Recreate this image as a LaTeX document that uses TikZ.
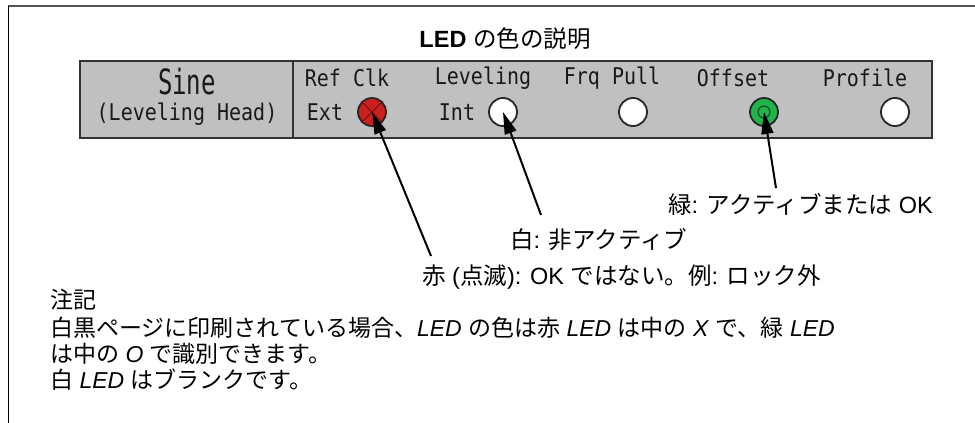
\documentclass[tikz,border=0pt]{standalone}
\usepackage{fontspec}
\setmainfont{Liberation Sans}
\newfontfamily\jp{Noto Sans CJK JP}
\newfontfamily\pix{DejaVu Sans Mono}
\usetikzlibrary{arrows.meta}
\definecolor{panelgray}{HTML}{C0C0C0}
\definecolor{ledred}{HTML}{CC2020}
\definecolor{ledgreen}{HTML}{22B44A}
\newcommand{\pixs}[1]{\scalebox{1}[1.15]{#1}}
\tikzset{
  pixtext/.style={font=\pix\fontsize{20}{22}\selectfont, text=black!90, inner sep=0pt, anchor=center},
  labeltext/.style={font=\fontsize{23.5}{26}\selectfont, inner sep=0pt, anchor=base west},
  notetext/.style={font=\fontsize{23}{26}\selectfont, inner sep=0pt, anchor=base west},
  ledbase/.style={circle, minimum size=28pt, inner sep=0pt, draw=black!85, line width=1.8pt},
  whiteled/.style={ledbase, fill=white},
  redled/.style={ledbase, fill=ledred},
  greenled/.style={ledbase, fill=ledgreen},
  arr/.style={line width=2pt, -{Triangle[length=22pt,width=12pt]}},
}
\begin{document}
\begin{tikzpicture}[x=1pt,y=-1pt]
\useasboundingbox (0,0) rectangle (975,423);
% frame
\draw[line width=2.5pt, black!67] (8,6) -- (975,6);
\draw[line width=1.5pt, black] (8.5,6) -- (8.5,423);
% title
\node[font=\fontsize{23.5}{26}\selectfont, inner sep=0pt, anchor=base] (title) at (505,47) {\textbf{LED} {\jp の色の説明}};
% panel
\node[draw=black!80, line width=2pt, fill=panelgray, minimum width=852pt, minimum height=77pt, inner sep=0pt, anchor=north west] (panel) at (79,60) {};
\draw[line width=1.8pt, black!80] (293,60) -- (293,137);
% panel texts
\node[pixtext, font=\pix\fontsize{24}{26}\selectfont] (sine) at (187,82) {\scalebox{1}[1.45]{Sine}};
\node[pixtext] (head) at (187,114) {\pixs{(Leveling Head)}};
\node[pixtext] (refclk) at (347,78) {\pixs{Ref Clk}};
\node[pixtext] (ext) at (325,112) {\pixs{Ext}};
\node[pixtext] (lev) at (483,78) {\pixs{Leveling}};
\node[pixtext] (int) at (457,112) {\pixs{Int}};
\node[pixtext] (frq) at (612,78) {\pixs{Frq Pull}};
\node[pixtext] (off) at (733,78) {\pixs{Offset}};
\node[pixtext] (prof) at (865,78) {\pixs{Profile}};
% LEDs
\node[redled] (l1) at (372,112) {};
\draw[ledred!50!black, line width=0.8pt] (l1.north west) -- (l1.south east) (l1.north east) -- (l1.south west);
\node[whiteled] (l2) at (503,112) {};
\node[whiteled] (l3) at (633,112) {};
\node[greenled] (l4) at (764,112) {};
\draw[ledgreen!45!black, line width=1.2pt] (l4.center) circle (6pt);
\node[whiteled] (l5) at (895,112) {};
% arrows
\coordinate (t1) at (431,256);
\coordinate (t2) at (541,215);
\coordinate (t4) at (776,188);
\draw[arr] (t1) -- (l1.center);
\draw[arr] (t2) -- (l2.center);
\draw[arr] (t4) -- (l4.center);
% labels
\node[labeltext] (lg) at (668,213) {{\jp 緑}: {\jp アクティブまたは} OK};
\node[labeltext] (lw) at (510,248) {{\jp 白}: {\jp 非アクティブ}};
\node[labeltext] (lr) at (422,284) {{\jp 赤} ({\jp 点滅}): OK {\jp ではない。例}: {\jp ロック外}};
% notes
\node[notetext] (n0) at (50,308) {\jp 注記};
\node[notetext] (n1) at (50,336) {{\jp 白黒ページに印刷されている場合、}\textit{LED} {\jp の色は赤} \textit{LED} {\jp は中の} \textit{X} {\jp で、緑} \textit{LED}};
\node[notetext] (n2) at (50,362) {{\jp は中の} \textit{O} {\jp で識別できます。}};
\node[notetext] (n3) at (50,388) {{\jp 白} \textit{LED} {\jp はブランクです。}};
\end{tikzpicture}
\end{document}
